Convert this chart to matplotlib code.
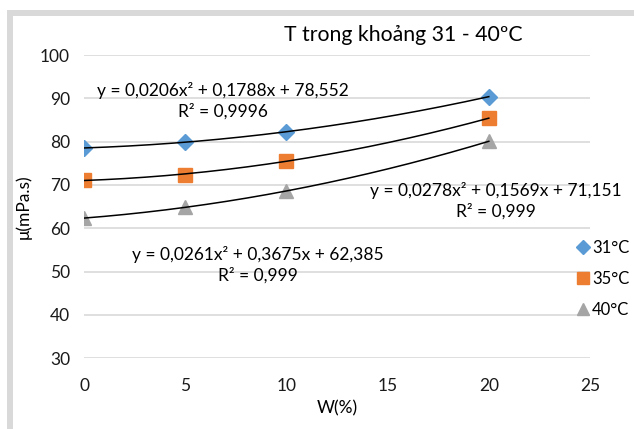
import numpy as np
import matplotlib
matplotlib.use("Agg")
import matplotlib.pyplot as plt
from matplotlib.patches import Rectangle

plt.rcParams['font.family'] = ['Lato', 'DejaVu Sans']

W = [0, 5, 10, 20]
mu_31 = [78.5, 80.0, 82.2, 90.4]
mu_35 = [71.1, 72.4, 75.6, 85.4]
mu_40 = [62.3, 65.0, 68.5, 80.1]
labels = ['31°C', '35°C', '40°C']
eq_texts = ['y = 0,0206x² + 0,1788x + 78,552\nR² = 0,9996',
            'y = 0,0278x² + 0,1569x + 71,151\nR² = 0,999',
            'y = 0,0261x² + 0,3675x + 62,385\nR² = 0,999']
x_ticks = [0, 5, 10, 15, 20, 25]
y_ticks = [30, 40, 50, 60, 70, 80, 90, 100]

fig = plt.figure(figsize=(6.34, 4.29), dpi=100)
ax = fig.add_axes([84/634, 1-358.3/429, 506/634, 303.3/429])

series = [mu_31, mu_35, mu_40]
colors = ['#5b9bd5', '#ed7d31', '#a5a5a5']
markers = ['D', 's', '^']
msizes = [8, 10, 10]
handles = []
for ys, c, m, ms, lab in zip(series, colors, markers, msizes, labels):
    h, = ax.plot(W, ys, linestyle='none', marker=m, color=c, markersize=ms,
                 label=lab, zorder=3)
    handles.append(h)
    coef = np.polyfit(W, ys, 2)
    xs = np.linspace(min(W), max(W), 200)
    ax.plot(xs, np.polyval(coef, xs), color='black', lw=1.1, zorder=4)

ax.set_xlim(0, 25)
ax.set_ylim(30, 100)
ax.set_xticks(x_ticks)
ax.set_yticks(y_ticks)
ax.grid(axis='y', color='#d9d9d9', lw=1.2)
ax.set_axisbelow(True)
for s in ax.spines.values():
    s.set_visible(False)
ax.tick_params(axis='both', length=0, labelsize=12.5, colors='#1a1a1a')
ax.tick_params(axis='x', pad=14)
ax.tick_params(axis='y', pad=10)
ax.set_xlabel('W(%)', fontsize=12.5, labelpad=5)
ax.set_ylabel('μ(mPa.s)', fontsize=12.5, labelpad=6)

fig.text(403/634, 1-35/429, 'T trong khoảng 31 - 40ºC', ha='center', va='center', fontsize=15.3)

# equation labels
eq_pos = [(223, 101), (496, 201), (258, 265)]
for (px, py), t in zip(eq_pos, eq_texts):
    fig.text(px/634, 1-py/429, t, ha='center', va='center', fontsize=12.5,
             linespacing=1.35)

fig.legend(handles=handles, labels=labels, loc='upper left',
           bbox_to_anchor=(576/634, 1-240/429), frameon=False,
           fontsize=12, handlelength=0.8, handletextpad=0.15, labelspacing=0.9,
           borderaxespad=0, borderpad=0, markerscale=0.9)

fig.patches.append(Rectangle((10/634, -0.2), 1.5, 1-13.5/429+0.2,
                             transform=fig.transFigure, fill=False,
                             edgecolor='#d9d9d9', lw=4.3, clip_on=False))

fig.savefig('out.png', dpi=100)
